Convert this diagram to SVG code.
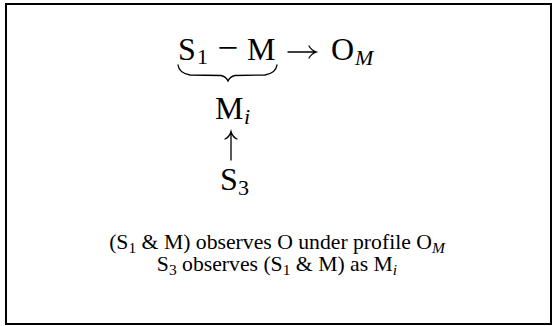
<svg xmlns="http://www.w3.org/2000/svg" width="553" height="326" viewBox="0 0 553 326">
<style>
  text { font-family: "Liberation Serif", "Times New Roman", serif; fill: #000; }
  .big { font-size: 32px; }
  .minus { font-size: 37px; }
  .sub { font-size: 22px; }
  .cap { font-size: 21.7px; }
  .capsub { font-size: 15.5px; }
  .it { font-style: italic; }
  .conn { fill: none; stroke: #000; stroke-width: 1.3; stroke-linecap: round; }
</style>
<rect x="6" y="4" width="545" height="320" fill="#fff" stroke="#000" stroke-width="2"/>

<g id="node-s1-m">
  <text class="big" x="178" y="60">S</text>
  <text class="sub" x="197" y="64">1</text>
  <text class="minus" x="228" y="60" text-anchor="middle">−</text>
  <text class="big" x="247" y="60">M</text>
</g>

<g id="node-om">
  <text class="big" x="331" y="60">O</text>
  <text class="sub it" x="355" y="65">M</text>
</g>

<g id="node-mi">
  <text class="big" x="215" y="119">M</text>
  <text class="sub it" x="244" y="124">i</text>
</g>

<g id="node-s3">
  <text class="big" x="220" y="190">S</text>
  <text class="sub" x="238" y="195">3</text>
</g>

<g id="connectors">
  <path class="conn" stroke-width="1.8" d="M178,65 Q179,73 190,75 L221,75.5 Q226,76.5 228,81 Q230,76.5 235,75.5 L265,75 Q276,73 277,65"/>
  <path class="conn" d="M288,52 H316 M309,46 Q311.5,50.5 316.5,52 Q311.5,53.5 309,58"/>
  <path class="conn" d="M231,160 V132 M225,139 Q229.5,137 231,131.5 Q232.5,137 237,139"/>
</g>

<g id="caption">
  <text class="cap" x="277" y="249" text-anchor="middle">(S<tspan class="capsub" dy="4">1</tspan><tspan dy="-4"> &amp; M) observes O under profile O</tspan><tspan class="capsub it" dy="4">M</tspan></text>
  <text class="cap" x="277" y="271" text-anchor="middle">S<tspan class="capsub" dy="4">3</tspan><tspan dy="-4"> observes (S</tspan><tspan class="capsub" dy="4">1</tspan><tspan dy="-4"> &amp; M) as M</tspan><tspan class="capsub it" dy="4">i</tspan></text>
</g>
</svg>
